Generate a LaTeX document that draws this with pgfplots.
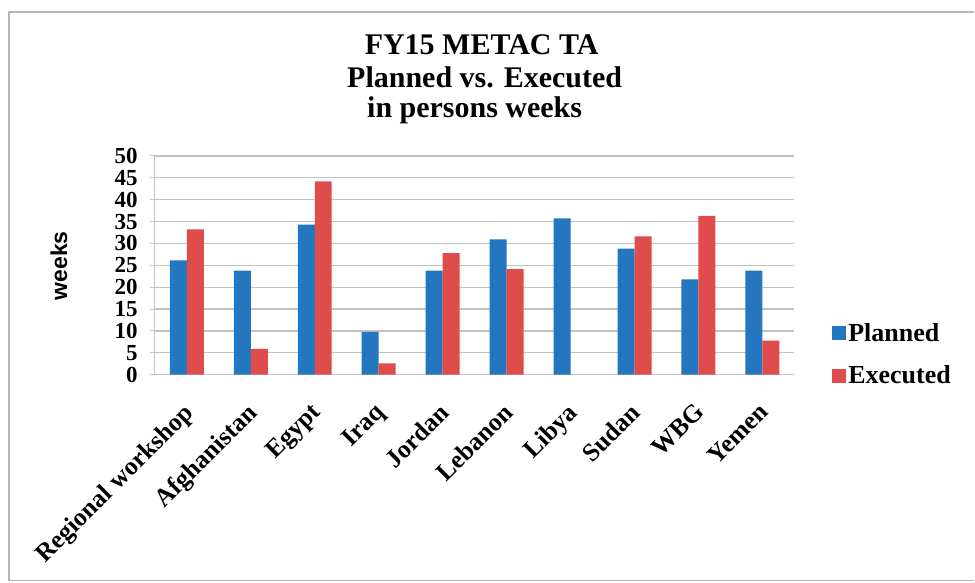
\documentclass[border=0pt]{standalone}
\usepackage{pgfplots}
\pgfplotsset{compat=1.18}
\usepackage{fontspec}
\setmainfont{Liberation Serif}
\setsansfont{Liberation Sans}
\definecolor{pblue}{RGB}{36,119,190}
\definecolor{ered}{RGB}{222,76,75}
\definecolor{gridg}{RGB}{195,195,195}
\begin{document}
\begin{tikzpicture}[x=1pt,y=1pt]
\path (0,0) rectangle (975,583);
\draw[gridg!80!gray, line width=1.5pt] (975,571) -- (9,571) -- (9,2) -- (975,2);
\begin{axis}[
  at={(155pt,208pt)}, anchor=south west,
  width=640pt, height=219pt, scale only axis,
  ybar=0pt, bar width=17pt,
  xmin=-0.5, xmax=9.5, ymin=0, ymax=50,
  ytick={0,5,...,50},
  xtick={0,...,9},
  xticklabels={Regional workshop,Afghanistan,Egypt,Iraq,Jordan,Lebanon,Libya,Sudan,WBG,Yemen},
  axis x line*=bottom, axis y line*=left,
  axis line style={gridg, line width=1pt},
  ymajorgrids, grid style={gridg, line width=1.3pt},
  xtick style={draw=none},
  ytick style={gridg, line width=1pt},
  tick align=outside, major tick length=5pt,
  /pgf/number format/assume math mode=true,
  yticklabel style={font=\fontsize{23}{23}\selectfont\bfseries, inner sep=0pt, xshift=-12pt},
  xticklabel style={font=\fontsize{25.5}{25.5}\selectfont\bfseries, inner sep=0pt, xshift=-5pt, yshift=-22pt, rotate=45, anchor=north east},
  legend style={at={(1.059,0.245)}, anchor=north west, draw=none, fill=none,
    font=\fontsize{26}{26}\selectfont\bfseries, cells={anchor=west},
    row sep=19pt, inner sep=0pt,
    /tikz/every even column/.append style={column sep=12pt}},
  legend image code/.code={\fill[#1] (0pt,-7pt) rectangle (14pt,7pt);},
]
\addplot[fill=pblue, draw=none] coordinates {(0,26.1) (1,23.8) (2,34.3) (3,9.8) (4,23.8) (5,30.9) (6,35.7) (7,28.8) (8,21.8) (9,23.8)};
\addplot[fill=ered, draw=none] coordinates {(0,33.2) (1,5.9) (2,44.2) (3,2.6) (4,27.8) (5,24.1) (7,31.6) (8,36.3) (9,7.8)};
\legend{Planned,Executed}
\end{axis}
\node[anchor=base, font=\fontsize{30}{30}\selectfont\bfseries] at (482,528) {FY15 METAC TA};
\node[anchor=base, font=\fontsize{30}{30}\selectfont\bfseries] at (485,495) {Planned vs. Executed};
\node[anchor=base, font=\fontsize{30}{30}\selectfont\bfseries] at (475,465) {in persons weeks};
\node[rotate=90, font=\fontsize{23}{23}\sffamily\bfseries] at (59,317) {weeks};
\end{tikzpicture}
\end{document}
